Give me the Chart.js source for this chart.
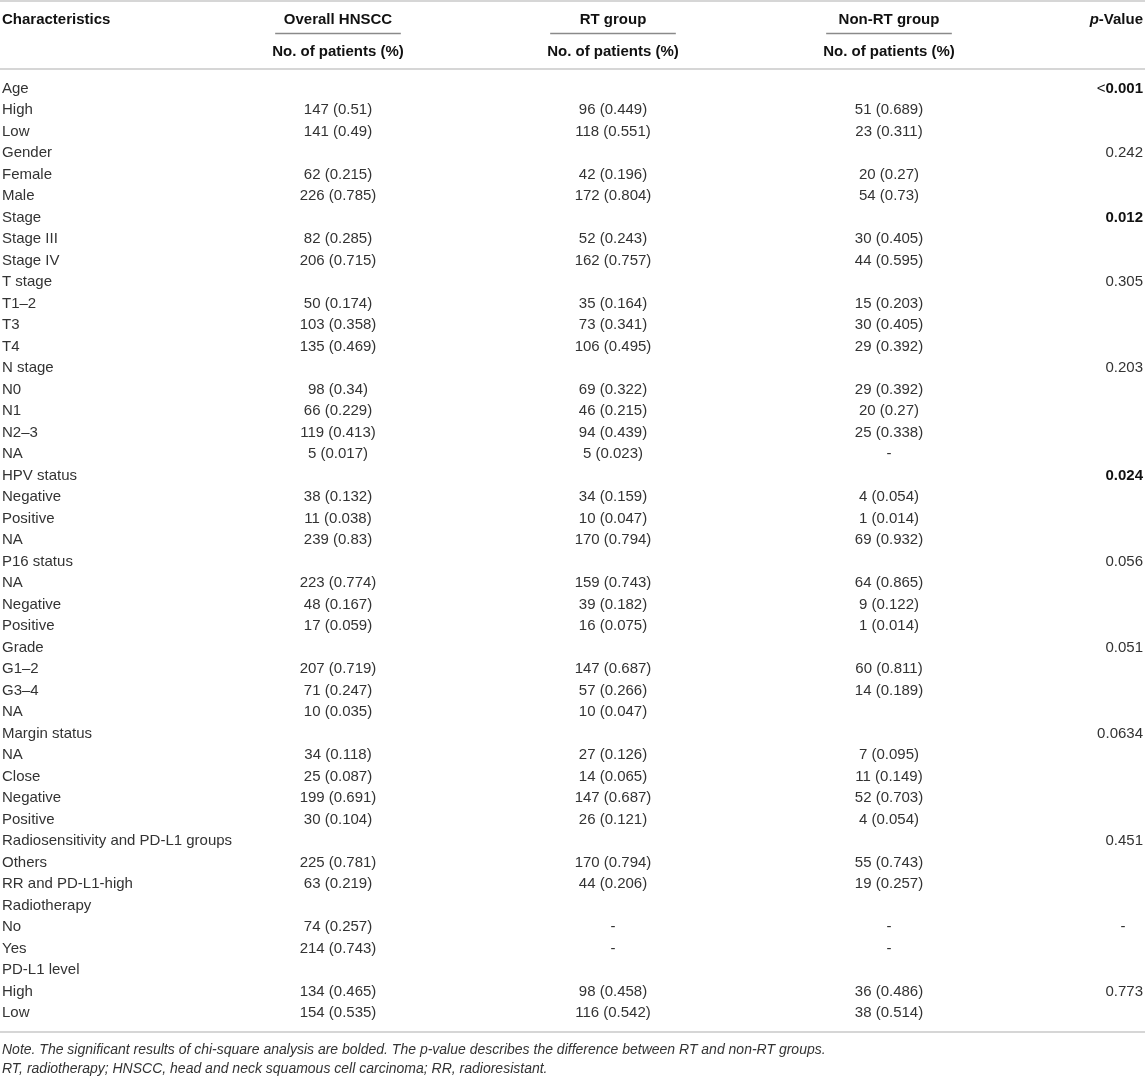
<!DOCTYPE html>
<html>
<head>
<meta charset="utf-8">
<script src="https://cdn.jsdelivr.net/npm/chart.js@4.4.1/dist/chart.umd.min.js"></script>
<style>
  html, body { margin: 0; padding: 0; background: #fff; }
  #wrap { width: 1145px; height: 1076px; }
</style>
</head>
<body>
<div id="wrap"><canvas id="patientTable"></canvas></div>
<script>
// linhas da tabela (coluna Characteristics)
const characteristics = [
  'Age', 'High', 'Low',
  'Gender', 'Female', 'Male',
  'Stage', 'Stage III', 'Stage IV',
  'T stage', 'T1\u20132', 'T3', 'T4',
  'N stage', 'N0', 'N1', 'N2\u20133', 'NA',
  'HPV status', 'Negative', 'Positive', 'NA',
  'P16 status', 'NA', 'Negative', 'Positive',
  'Grade', 'G1\u20132', 'G3\u20134', 'NA',
  'Margin status', 'NA', 'Close', 'Negative', 'Positive',
  'Radiosensitivity and PD-L1 groups', 'Others', 'RR and PD-L1-high',
  'Radiotherapy', 'No', 'Yes',
  'PD-L1 level', 'High', 'Low'
];

const overallHNSCC = [
  '', '147 (0.51)', '141 (0.49)',
  '', '62 (0.215)', '226 (0.785)',
  '', '82 (0.285)', '206 (0.715)',
  '', '50 (0.174)', '103 (0.358)', '135 (0.469)',
  '', '98 (0.34)', '66 (0.229)', '119 (0.413)', '5 (0.017)',
  '', '38 (0.132)', '11 (0.038)', '239 (0.83)',
  '', '223 (0.774)', '48 (0.167)', '17 (0.059)',
  '', '207 (0.719)', '71 (0.247)', '10 (0.035)',
  '', '34 (0.118)', '25 (0.087)', '199 (0.691)', '30 (0.104)',
  '', '225 (0.781)', '63 (0.219)',
  '', '74 (0.257)', '214 (0.743)',
  '', '134 (0.465)', '154 (0.535)'
];

const rtGroup = [
  '', '96 (0.449)', '118 (0.551)',
  '', '42 (0.196)', '172 (0.804)',
  '', '52 (0.243)', '162 (0.757)',
  '', '35 (0.164)', '73 (0.341)', '106 (0.495)',
  '', '69 (0.322)', '46 (0.215)', '94 (0.439)', '5 (0.023)',
  '', '34 (0.159)', '10 (0.047)', '170 (0.794)',
  '', '159 (0.743)', '39 (0.182)', '16 (0.075)',
  '', '147 (0.687)', '57 (0.266)', '10 (0.047)',
  '', '27 (0.126)', '14 (0.065)', '147 (0.687)', '26 (0.121)',
  '', '170 (0.794)', '44 (0.206)',
  '', '-', '-',
  '', '98 (0.458)', '116 (0.542)'
];

const nonRtGroup = [
  '', '51 (0.689)', '23 (0.311)',
  '', '20 (0.27)', '54 (0.73)',
  '', '30 (0.405)', '44 (0.595)',
  '', '15 (0.203)', '30 (0.405)', '29 (0.392)',
  '', '29 (0.392)', '20 (0.27)', '25 (0.338)', '-',
  '', '4 (0.054)', '1 (0.014)', '69 (0.932)',
  '', '64 (0.865)', '9 (0.122)', '1 (0.014)',
  '', '60 (0.811)', '14 (0.189)', '',
  '', '7 (0.095)', '11 (0.149)', '52 (0.703)', '4 (0.054)',
  '', '55 (0.743)', '19 (0.257)',
  '', '-', '-',
  '', '36 (0.486)', '38 (0.514)'
];

const pValues = [
  '<0.001', '', '',
  '0.242', '', '',
  '0.012', '', '',
  '0.305', '', '', '',
  '0.203', '', '', '', '',
  '0.024', '', '', '',
  '0.056', '', '', '',
  '0.051', '', '', '',
  '0.0634', '', '', '', '',
  '0.451', '', '',
  '', '-', '',
  '', '0.773', ''
];
// p-valores significativos (em negrito)
const boldP = ['<0.001', '0.012', '0.024'];

const groupHeaders = ['Overall HNSCC', 'RT group', 'Non-RT group'];
const subHeader = 'No. of patients (%)';
const notes = [
  'Note. The significant results of chi-square analysis are bolded. The p-value describes the difference between RT and non-RT groups.',
  'RT, radiotherapy; HNSCC, head and neck squamous cell carcinoma; RR, radioresistant.'
];

// posicao das colunas no eixo x (0..1145)
const colX = { label: 2, overall: 338, rt: 613, nonRt: 889, p: 1143 };

const FONT = '"Liberation Sans", Arial, Helvetica, sans-serif';
const TEXT = '#333333';
const RULE = '#d6d6d6';

// Plugin que desenha a tabela usando as escalas do grafico
const tablePlugin = {
  id: 'tablePlugin',
  afterDraw(chart) {
    const ctx = chart.ctx;
    const x = chart.scales.x;
    const y = chart.scales.y;
    const top = chart.chartArea.top;
    const bottom = chart.chartArea.bottom;
    const px = v => x.getPixelForValue(v);

    ctx.save();
    ctx.textBaseline = 'middle';

    // linhas horizontais
    ctx.strokeStyle = RULE;
    ctx.lineWidth = 2;
    const hline = (a, b, yy) => {
      ctx.beginPath(); ctx.moveTo(a, yy); ctx.lineTo(b, yy); ctx.stroke();
    };
    hline(px(0), px(1145), 1);
    hline(px(0), px(1145), top - 9);
    hline(px(0), px(1145), bottom + 8);

    // cabecalho
    ctx.fillStyle = '#111';
    ctx.font = 'bold 15px ' + FONT;
    ctx.textAlign = 'left';
    ctx.fillText('Characteristics', px(colX.label), 20);
    ctx.textAlign = 'center';
    const groupX = [colX.overall, colX.rt, colX.nonRt];
    const subW = ctx.measureText(subHeader).width;
    groupHeaders.forEach((h, i) => {
      const cx = px(groupX[i]);
      ctx.fillText(h, cx, 20);
      ctx.fillText(subHeader, cx, 52);
      ctx.strokeStyle = '#8a8a8a';
      ctx.lineWidth = 1.5;
      hline(cx - subW / 2 + 3, cx + subW / 2 - 3, 33.5);
    });
    ctx.textAlign = 'right';
    const wVal = ctx.measureText('-Value').width;
    ctx.fillText('-Value', px(colX.p), 20);
    ctx.font = 'italic bold 15px ' + FONT;
    ctx.fillText('p', px(colX.p) - wVal, 20);

    // celulas
    characteristics.forEach((lab, i) => {
      const yy = y.getPixelForValue(i);
      ctx.fillStyle = TEXT;
      ctx.font = '15px ' + FONT;
      ctx.textAlign = 'left';
      ctx.fillText(lab, px(colX.label), yy);
      ctx.textAlign = 'center';
      ctx.fillText(overallHNSCC[i], px(colX.overall), yy);
      ctx.fillText(rtGroup[i], px(colX.rt), yy);
      ctx.fillText(nonRtGroup[i], px(colX.nonRt), yy);
      const p = pValues[i];
      if (!p) return;
      if (p === '-') {
        ctx.fillText(p, px(colX.p) - 20, yy);
        return;
      }
      ctx.textAlign = 'right';
      if (boldP.includes(p)) {
        ctx.fillStyle = '#111';
        ctx.font = 'bold 15px ' + FONT;
        const num = p.replace('<', '');
        ctx.fillText(num, px(colX.p), yy);
        if (p.startsWith('<')) {
          const w = ctx.measureText(num).width;
          ctx.font = '15px ' + FONT;
          ctx.fillText('<', px(colX.p) - w, yy);
        }
      } else {
        ctx.fillText(p, px(colX.p), yy);
      }
    });

    // notas de rodape
    ctx.fillStyle = TEXT;
    ctx.font = 'italic 14px ' + FONT;
    ctx.textAlign = 'left';
    notes.forEach((n, i) => ctx.fillText(n, px(colX.label), bottom + 26 + i * 19));
    ctx.restore();
  }
};

new Chart(document.getElementById('patientTable').getContext('2d'), {
  type: 'scatter',
  data: {
    labels: characteristics,
    datasets: [{
      data: characteristics.map((c, i) => ({ x: colX.label, y: i })),
      pointRadius: 0
    }]
  },
  options: {
    responsive: true,
    maintainAspectRatio: false,
    animation: false,
    layout: { padding: { top: 78, bottom: 52, left: 0, right: 0 } },
    plugins: { legend: { display: false }, tooltip: { enabled: false } },
    scales: {
      x: { type: 'linear', min: 0, max: 1145, display: false },
      y: { type: 'linear', min: -0.5, max: characteristics.length - 0.5, reverse: true, display: false }
    }
  },
  plugins: [tablePlugin]
});
</script>
</body>
</html>
